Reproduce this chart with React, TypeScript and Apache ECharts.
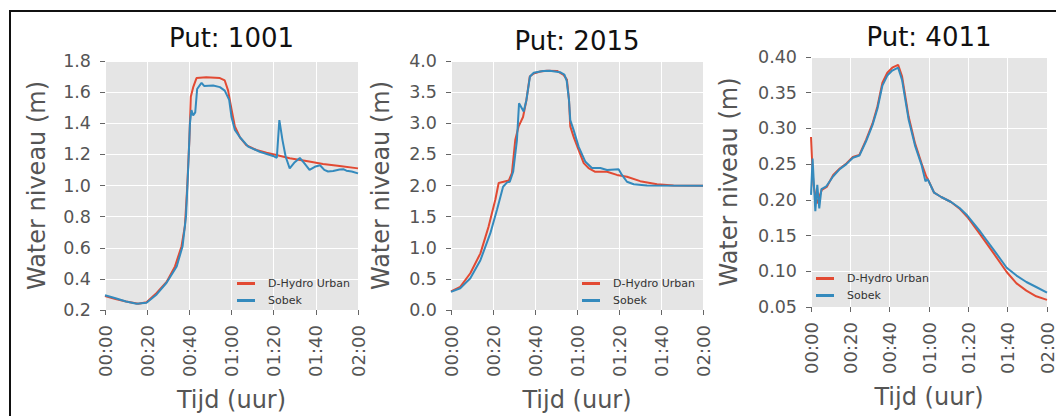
import React, { useEffect, useRef } from "react";
import * as echarts from "echarts";

// ---- Data (time in minutes since 00:00, water level in m) ----
const seriesNames = ["D-Hydro Urban", "Sobek"];
const panelTitles = ["Put: 1001", "Put: 2015", "Put: 4011"];
const xTickMinutes = [0, 20, 40, 60, 80, 100, 120];

// Put 1001
const put1001TimeDH = [0, 5, 10, 15.8, 19.7, 24.5, 29.2, 33.2, 36.3, 37.9, 39, 40, 40.7, 41.8, 43.4, 48, 54.5, 56.8, 58.4, 60, 61.6, 64, 67, 71.8, 76.6, 81.3, 87.6, 95.5, 103.4, 111.3, 120];
const put1001LevelDH = [0.29, 0.27, 0.255, 0.24, 0.25, 0.31, 0.38, 0.48, 0.61, 0.74, 0.99, 1.29, 1.57, 1.63, 1.69, 1.695, 1.69, 1.675, 1.61, 1.49, 1.38, 1.31, 1.26, 1.228, 1.21, 1.196, 1.175, 1.157, 1.138, 1.125, 1.11];
const put1001TimeSobek = [0, 5, 10, 15, 19.7, 24.5, 29.2, 34, 36.8, 38.4, 39.5, 40.3, 41, 41.8, 42.8, 43.7, 45, 45.8, 47, 51.3, 54.5, 56.8, 58.9, 60, 61.6, 64, 67.9, 73.4, 79.7, 81.5, 82.7, 84.2, 85.7, 87.6, 90, 92.4, 94.7, 97, 99.5, 102, 104, 105.8, 108.2, 111.3, 113, 114.5, 117, 120];
const put1001LevelSobek = [0.295, 0.275, 0.255, 0.24, 0.247, 0.3, 0.375, 0.48, 0.61, 0.8, 1.12, 1.4, 1.485, 1.45, 1.47, 1.62, 1.645, 1.66, 1.64, 1.642, 1.632, 1.61, 1.55, 1.44, 1.357, 1.31, 1.25, 1.217, 1.19, 1.178, 1.42, 1.29, 1.185, 1.11, 1.15, 1.177, 1.14, 1.1, 1.12, 1.13, 1.1, 1.09, 1.093, 1.103, 1.105, 1.095, 1.09, 1.078];

// Put 2015
const put2015TimeDH = [0, 4.4, 9.2, 14, 17.9, 21.1, 22.7, 25.1, 27.5, 29, 30.6, 32.2, 34.3, 35.9, 37.5, 39.4, 42.5, 45.7, 50.5, 53.6, 55.2, 56.2, 56.8, 58.4, 60.8, 63.2, 65.5, 68.7, 74.3, 79, 83.8, 90.1, 98.1, 106, 120];
const put2015LevelDH = [0.3, 0.37, 0.59, 0.91, 1.34, 1.77, 2.04, 2.06, 2.08, 2.2, 2.73, 2.95, 3.1, 3.37, 3.75, 3.8, 3.83, 3.845, 3.84, 3.775, 3.7, 3.37, 2.95, 2.78, 2.57, 2.36, 2.28, 2.22, 2.22, 2.17, 2.14, 2.07, 2.02, 2.0, 1.995];
const put2015TimeSobek = [0, 4.4, 9.2, 14, 18.7, 21.9, 24.8, 26.7, 28, 29.6, 31.4, 32.4, 34.6, 35.9, 37.6, 39.4, 43.8, 47, 51.9, 54, 55.1, 56.2, 56.8, 58.4, 60.8, 64, 67.1, 71.1, 74.3, 79.8, 81.4, 83.8, 87, 93.3, 120];
const put2015LevelSobek = [0.29, 0.35, 0.51, 0.8, 1.23, 1.61, 1.98, 2.05, 2.06, 2.22, 2.73, 3.32, 3.19, 3.37, 3.75, 3.81, 3.84, 3.845, 3.82, 3.78, 3.68, 3.37, 3.05, 2.89, 2.62, 2.38, 2.28, 2.28, 2.25, 2.26, 2.17, 2.06, 2.02, 2.0, 1.995];

// Put 4011
const put4011TimeDH = [0, 0.7, 1.3, 3, 5.5, 8, 11.3, 14.6, 18, 21.3, 24.6, 28, 31.3, 33.8, 36.3, 38.8, 41.3, 44.3, 46.3, 49.6, 52.9, 56.2, 58.7, 59.6, 62.6, 66.2, 71.2, 75.4, 79.5, 86.2, 92.9, 99.5, 104.5, 109.5, 114.5, 120];
const put4011LevelDH = [0.288, 0.246, 0.22, 0.195, 0.214, 0.218, 0.235, 0.244, 0.251, 0.26, 0.263, 0.284, 0.307, 0.331, 0.364, 0.378, 0.385, 0.389, 0.373, 0.317, 0.279, 0.251, 0.232, 0.228, 0.21, 0.204, 0.197, 0.188, 0.176, 0.151, 0.125, 0.099, 0.083, 0.073, 0.065, 0.06];
const put4011TimeSobek = [0, 0.8, 2.2, 3.2, 4.2, 5.3, 7.8, 11.3, 14.6, 18, 21.3, 24.6, 28, 31.3, 33.8, 36.3, 38.8, 41.3, 44.3, 46.3, 49.6, 52.9, 56.2, 58.2, 59.3, 60.2, 62.6, 66.2, 71.2, 75.4, 79.5, 86.2, 92.9, 99.5, 104.5, 109.5, 114.5, 120];
const put4011LevelSobek = [0.207, 0.258, 0.184, 0.221, 0.188, 0.215, 0.219, 0.233, 0.243, 0.25, 0.259, 0.262, 0.282, 0.305, 0.328, 0.36, 0.374, 0.381, 0.385, 0.368, 0.313, 0.276, 0.249, 0.226, 0.229, 0.224, 0.21, 0.204, 0.197, 0.189, 0.178, 0.155, 0.13, 0.105, 0.094, 0.085, 0.078, 0.07];

// y axis ranges
const yMins = [0.2, 0.0, 0.05];
const yMaxs = [1.8, 4.0, 0.4];
const yIntervals = [0.2, 0.5, 0.05];
const yDecimals = [1, 1, 2];

const RED = "#E24A33";
const BLUE = "#348ABD";
const FONT = "DejaVu Sans";

const zip = (t: number[], v: number[]) => t.map((x, i) => [x, v[i]]);
const fmtTime = (m: number) => {
  const h = Math.floor(m / 60);
  const mm = Math.round(m % 60);
  return `${String(h).padStart(2, "0")}:${String(mm).padStart(2, "0")}`;
};

export default function App() {
  const ref = useRef<HTMLDivElement>(null);
  useEffect(() => {
    if (!ref.current) return;
    document.body.style.margin = "0";
    document.body.style.overflow = "hidden";
    document.documentElement.style.overflow = "hidden";
    const chart = echarts.init(ref.current, undefined, { renderer: "svg" });

    const grids = [
      { left: 105, top: 61, width: 253, height: 249 },
      { left: 451, top: 61, width: 252, height: 249 },
      { left: 811, top: 57, width: 236, height: 250 },
    ];
    const titleY = [38, 41, 37];
    const yNameGaps = [56, 58, 70];
    const legendPos = [
      { left: 237, top: 277 },
      { left: 582, top: 277 },
      { left: 816, top: 272 },
    ];
    const panelData = [
      [zip(put1001TimeDH, put1001LevelDH), zip(put1001TimeSobek, put1001LevelSobek)],
      [zip(put2015TimeDH, put2015LevelDH), zip(put2015TimeSobek, put2015LevelSobek)],
      [zip(put4011TimeDH, put4011LevelDH), zip(put4011TimeSobek, put4011LevelSobek)],
    ];

    const option: any = {
      animation: false,
      backgroundColor: "#ffffff",
      textStyle: { fontFamily: FONT },
      grid: grids.map((g) => ({
        ...g,
        show: true,
        backgroundColor: "#E5E5E5",
        borderWidth: 0,
        containLabel: false,
        outerBoundsMode: "none",
      })),
      xAxis: grids.map((_, i) => ({
        type: "value",
        gridIndex: i,
        min: xTickMinutes[0],
        max: xTickMinutes[xTickMinutes.length - 1],
        interval: xTickMinutes[1] - xTickMinutes[0],
        axisLine: { show: false },
        axisTick: { show: true, length: 5, lineStyle: { color: "#666", width: 1 } },
        splitLine: { show: true, lineStyle: { color: "#ffffff", width: 1 } },
        axisLabel: {
          rotate: 90,
          margin: 15,
          fontSize: 18,
          color: "#555555",
          fontFamily: FONT,
          hideOverlap: false,
          formatter: (v: number) => fmtTime(v),
        },
        name: "Tijd (uur)",
        nameLocation: "middle",
        nameGap: 78,
        nameTextStyle: { fontSize: 24, color: "#555555", fontFamily: FONT },
      })),
      yAxis: grids.map((_, i) => ({
        type: "value",
        gridIndex: i,
        min: yMins[i],
        max: yMaxs[i],
        interval: yIntervals[i],
        axisLine: { show: false },
        axisTick: { show: true, length: 5, lineStyle: { color: "#666", width: 1 } },
        splitLine: { show: true, lineStyle: { color: "#ffffff", width: 1 } },
        axisLabel: {
          margin: 14,
          fontSize: 17.5,
          color: "#555555",
          fontFamily: FONT,
          formatter: (v: number) => v.toFixed(yDecimals[i]),
        },
        name: "Water niveau (m)",
        nameLocation: "middle",
        nameRotate: 90,
        nameGap: yNameGaps[i],
        nameTextStyle: { fontSize: 24, color: "#555555", fontFamily: FONT },
      })),
      legend: legendPos.map((p) => ({
        ...p,
        orient: "vertical",
        padding: 0,
        itemGap: 4,
        itemWidth: 18,
        itemHeight: 3,
        icon: "rect",
        data: seriesNames,
        selectedMode: false,
        textStyle: { fontSize: 11, color: "#333", fontFamily: FONT, lineHeight: 13, padding: [0, 0, 0, 8] },
      })),
      graphic: [
        ...grids.map((g, i) => ({
          type: "text",
          x: g.left + g.width / 2,
          y: titleY[i],
          style: {
            text: panelTitles[i],
            fontSize: 26,
            fontFamily: FONT,
            fill: "#111",
            align: "center",
            verticalAlign: "middle",
          },
        })),
        {
          type: "line",
          shape: { x1: 9, y1: 11, x2: 1056, y2: 11 },
          style: { stroke: "#111", lineWidth: 2 },
          silent: true,
        },
        {
          type: "line",
          shape: { x1: 10, y1: 10, x2: 10, y2: 416 },
          style: { stroke: "#111", lineWidth: 2 },
          silent: true,
        },
      ],
      series: panelData.flatMap((pair, i) =>
        pair.map((d, j) => ({
          type: "line",
          name: seriesNames[j],
          xAxisIndex: i,
          yAxisIndex: i,
          data: d,
          showSymbol: false,
          symbol: "none",
          lineStyle: { width: 2, color: j === 0 ? RED : BLUE },
          itemStyle: { color: j === 0 ? RED : BLUE },
          z: 2 + j,
        }))
      ),
    };
    chart.setOption(option);
    return () => chart.dispose();
  }, []);
  return (
    <div
      ref={ref}
      style={{ position: "absolute", left: 0, top: 0, width: 1056, height: 416, overflow: "hidden" }}
    />
  );
}
